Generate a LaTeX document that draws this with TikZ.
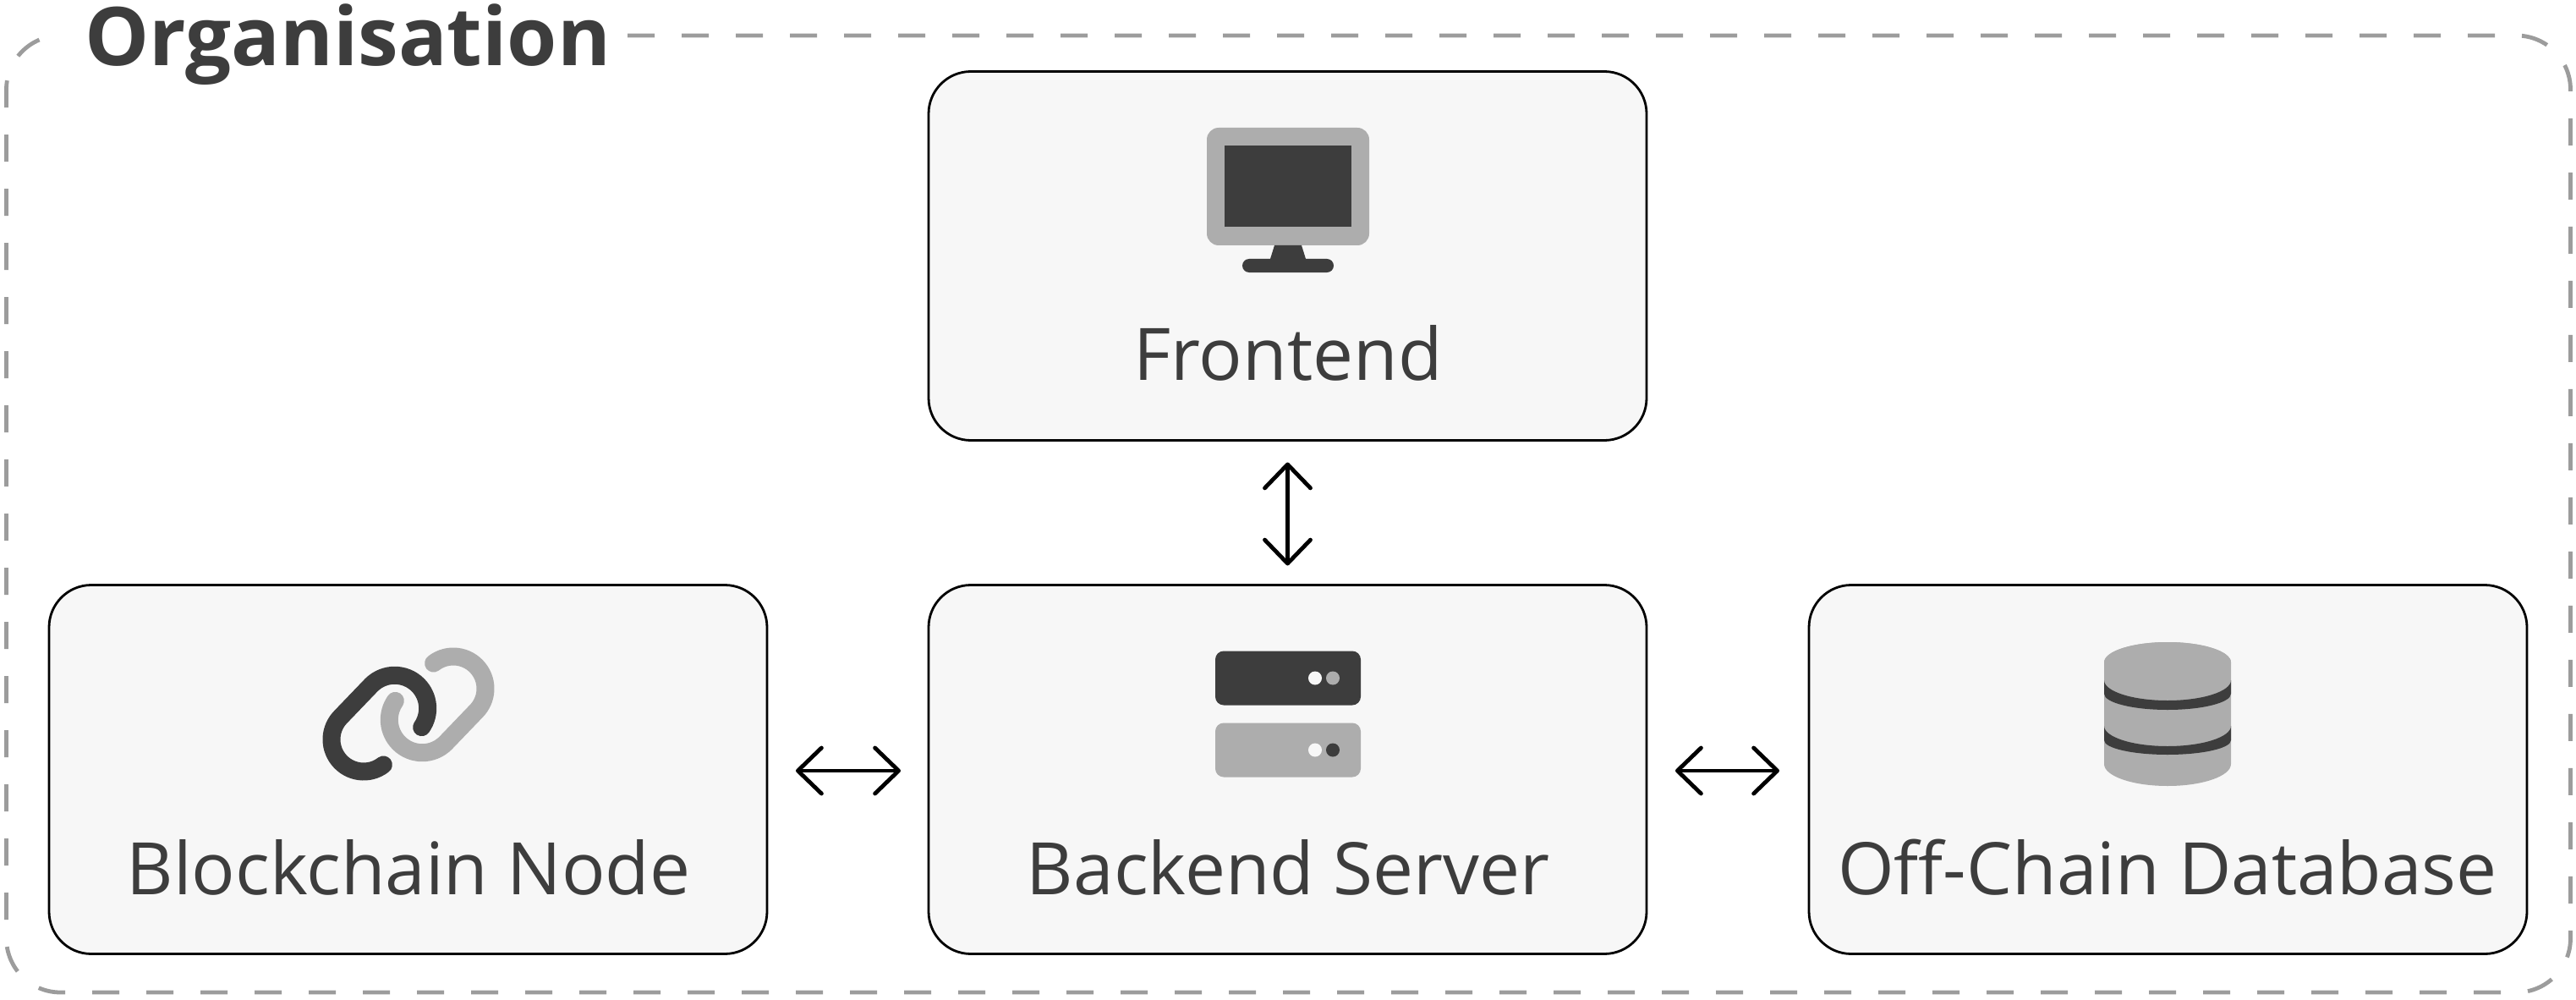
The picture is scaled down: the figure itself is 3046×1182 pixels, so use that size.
\documentclass[tikz,border=0pt]{standalone}
\usepackage{fontspec}
\setmainfont{Open Sans}
\usetikzlibrary{arrows.meta}
\definecolor{inkdark}{HTML}{3D3D3D}
\definecolor{inklight}{HTML}{ADADAD}
\definecolor{boxfill}{HTML}{F7F7F7}
\definecolor{dashgray}{HTML}{9C9C9C}
\tikzset{
  cardbox/.style={draw=black,line width=1.4pt,fill=boxfill,rounded corners=25pt,minimum width=424.5pt,minimum height=218pt,inner sep=0pt,outer sep=0pt},
  cardlabel/.style={anchor=base,font=\fontsize{42.8}{44}\selectfont,text=inkdark,inner sep=0pt},
  linkarrow/.style={draw=black,line width=2.4pt,line cap=round,{Straight Barb[length=14pt,width=27pt,round,line width=2.4pt]}-{Straight Barb[length=14pt,width=27pt,round,line width=2.4pt]}},
  linkstroke/.style={line width=10.5pt,line cap=round},
}
\begin{document}
\begin{tikzpicture}[x=0.5pt,y=-0.5pt]
\useasboundingbox (0,0) rectangle (3046,1182);
\fill[white] (0,0) rectangle (3046,1182);
\draw[dashgray,line width=2.4pt,rounded corners=32pt,dash pattern=on 16pt off 16pt] (742,42) -- (3039.5,42) -- (3039.5,1173) -- (7.5,1173) -- (7.5,42) -- (72,42);
\node[anchor=base west,font=\bfseries\fontsize{47.9}{48}\selectfont,text=inkdark,inner sep=0pt] (title) at (100,78) {Organisation};
\node[cardbox] (frontend) at (1522.5,302.5) {};
\node[cardbox] (backend) at (1522.5,909.5) {};
\node[cardbox] (chain) at (482.5,909.5) {};
\node[cardbox] (offchain) at (2563.5,909.5) {};
\node[cardlabel] (frontendlabel) at (1523,449) {Frontend};
\node[cardlabel] (backendlabel) at (1523,1057) {Backend Server};
\node[cardlabel] (chainlabel) at (483,1057) {Blockchain Node};
\node[cardlabel] (offchainlabel) at (2563,1057) {Off-Chain Database};
\draw[linkarrow,shorten <=13pt,shorten >=11.5pt] (frontend.south) -- (backend.north);
\draw[linkarrow,shorten <=17pt,shorten >=16.5pt] ([yshift=-0.75pt]chain.east) -- ([yshift=-0.75pt]backend.west);
\draw[linkarrow,shorten <=17pt,shorten >=17.5pt] ([yshift=-0.75pt]backend.east) -- ([yshift=-0.75pt]offchain.west);
% monitor
\fill[inklight,rounded corners=7pt] (1427,151) rectangle (1619,290);
\fill[inkdark] (1448,172) rectangle (1598,268);
\fill[inkdark] (1507,290) -- (1539,290) -- (1544,306) -- (1502,306) -- cycle;
\fill[inkdark,rounded corners=4pt] (1469,306) rectangle (1577,322);
% chain link
\draw[inkdark,linkstroke] (430,874) ++(52:38) arc[start angle=52,end angle=225,radius=38] -- (439.1,809.7) arc[start angle=225,end angle=395,radius=39];
\draw[inklight,linkstroke] (536,814) ++(232:38) arc[start angle=232,end angle=405,radius=38] -- (526.9,878.3) arc[start angle=45,end angle=215,radius=39];
% server
\fill[inkdark,rounded corners=5pt] (1437,769.5) rectangle (1609,833.5);
\fill[inklight,rounded corners=5pt] (1437,854.5) rectangle (1609,918.5);
\fill[boxfill] (1555,801.5) circle[radius=8];
\fill[inklight] (1576,801.5) circle[radius=8];
\fill[boxfill] (1555,886.5) circle[radius=8];
\fill[inkdark] (1576,886.5) circle[radius=8];
% database
\fill[inklight] (2488,783) arc[start angle=180,end angle=360,x radius=75,y radius=24] -- (2638,903) arc[start angle=0,end angle=180,x radius=75,y radius=26] -- cycle;
\fill[inklight] (2563,783) circle[x radius=75,y radius=24];
\fill[inkdark] (2488,804) arc[start angle=180,end angle=0,x radius=75,y radius=24] -- (2638,820) arc[start angle=0,end angle=180,x radius=75,y radius=19] -- cycle;
\fill[inkdark] (2488,858) arc[start angle=180,end angle=0,x radius=75,y radius=24] -- (2638,875) arc[start angle=0,end angle=180,x radius=75,y radius=17] -- cycle;
\end{tikzpicture}
\end{document}
